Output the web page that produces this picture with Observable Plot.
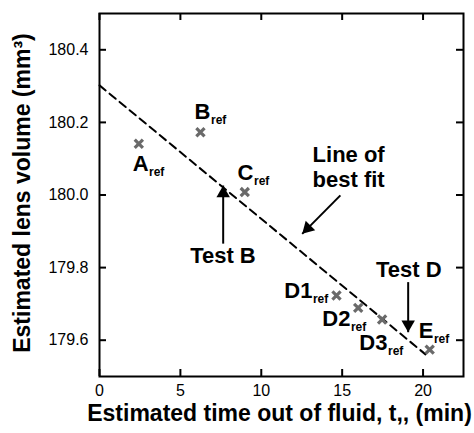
<!DOCTYPE html>
<html><head><meta charset="utf-8">
<script src="https://cdn.jsdelivr.net/npm/d3@7"></script>
<script src="https://cdn.jsdelivr.net/npm/@observablehq/plot@0.6"></script>
<style>body{margin:0;background:#fff}</style>
</head><body><div id="chart"></div>
<script>
const pointLabels = ["A", "B", "C", "D1", "D2", "D3", "E"];
const pointTime = [2.43, 6.24, 8.98, 14.65, 15.99, 17.47, 20.41];
const pointVolume = [180.141, 180.173, 180.008, 179.723, 179.689, 179.657, 179.574];
const labelTime = [3.03, 6.86, 9.52, 13.16, 15.51, 17.80, 20.64];
const labelVolume = [180.067, 180.208, 180.040, 179.715, 179.640, 179.572, 179.607];
const fitTime = [0, 20.15];
const fitVolume = [180.302, 179.561];
const xTicks = [0, 5, 10, 15, 20];
const yTicks = [179.6, 179.8, 180.0, 180.2, 180.4];
const xDomain = [0, 22.5];
const yDomain = [179.5, 180.5];
const noteText = ["Test B", "Test D", "Line of", "best fit"];
const noteTime = [7.63, 19.12, 15.40, 15.40];
const noteVolume = [179.814, 179.773, 180.090, 180.021];
const noteAnchor = ["middle", "middle", "start", "start"];
const arrowTailTime = [7.645, 19.08, 14.89];
const arrowTailVolume = [179.866, 179.760, 179.999];
const arrowTipTime = [7.645, 19.08, 12.53];
const arrowTipVolume = [180.026, 179.622, 179.893];
const xTitle = "Estimated time out of fluid, t,, (min)";
const yTitle = "Estimated lens volume (mm³)";

const headRotate = [0, 180, 225];
const headShift = [[0, 7.8], [0, -7.8], [5.5, -5.5]];

const W = 474, H = 433, mL = 99, mR = 11, mT = 13, mB = 57;
const frameW = W - mL - mR, frameH = H - mT - mB, tick = 7;
// tick length converted to data units of each scale
const tx = tick * (xDomain[1] - xDomain[0]) / frameW;
const ty = tick * (yDomain[1] - yDomain[0]) / frameH;
const idx = pointLabels.map((d, i) => i);
const tickStyle = {stroke: "#000", strokeWidth: 2};

const chart = Plot.plot({
  width: W, height: H,
  marginLeft: mL, marginRight: mR, marginTop: mT, marginBottom: mB,
  style: {fontFamily: "'Liberation Sans', Arial, sans-serif", background: "#fff", color: "#000", overflow: "visible"},
  x: {domain: xDomain},
  y: {domain: yDomain},
  marks: [
    Plot.axisX({ticks: xTicks, tickSize: 0, tickPadding: 8, fontSize: 16, label: null}),
    Plot.axisY({ticks: yTicks, tickSize: 0, tickPadding: 11, fontSize: 16, tickFormat: d3.format(".1f"), label: null}),
    Plot.ruleX(xTicks, {x: d => d, y1: () => yDomain[0], y2: () => yDomain[0] + ty, ...tickStyle}),
    Plot.ruleX(xTicks, {x: d => d, y1: () => yDomain[1], y2: () => yDomain[1] - ty, ...tickStyle}),
    Plot.ruleY(yTicks, {y: d => d, x1: () => xDomain[0], x2: () => xDomain[0] + tx, ...tickStyle}),
    Plot.ruleY(yTicks, {y: d => d, x1: () => xDomain[1], x2: () => xDomain[1] - tx, ...tickStyle}),
    Plot.frame({stroke: "#000", strokeWidth: 2}),
    Plot.line(fitTime.map((t, i) => i), {x: i => fitTime[i], y: i => fitVolume[i], stroke: "#000", strokeWidth: 2, strokeDasharray: "8,5"}),
    Plot.dot(idx, {x: i => pointTime[i], y: i => pointVolume[i], symbol: "times", r: 3.8, stroke: "#6a6a6a", strokeWidth: 3.2}),
    Plot.text(idx, {x: i => labelTime[i], y: i => labelVolume[i], text: i => pointLabels[i], textAnchor: "end", lineAnchor: "bottom", fontSize: 22, fontWeight: "bold", fill: "#000"}),
    Plot.text(idx, {x: i => labelTime[i], y: i => labelVolume[i], text: () => "ref", textAnchor: "start", lineAnchor: "bottom", dy: 5, dx: 0.5, fontSize: 12, fontWeight: "bold", fill: "#000"}),
    Plot.text(noteText.map((d, i) => i), {x: i => noteTime[i], y: i => noteVolume[i], text: i => noteText[i], textAnchor: i => noteAnchor[i], lineAnchor: "bottom", fontSize: 22, fontWeight: "bold", fill: "#000"}),
    Plot.link(arrowTipTime.map((d, i) => i), {x1: i => arrowTailTime[i], y1: i => arrowTailVolume[i], x2: i => arrowTipTime[i], y2: i => arrowTipVolume[i], stroke: "#000", strokeWidth: 2}),
    ...arrowTipTime.map((d, k) => Plot.dot([k], {x: i => arrowTipTime[i], y: i => arrowTipVolume[i], symbol: "triangle", r: 5, fill: "#000", stroke: "none", rotate: headRotate[k], dx: headShift[k][0], dy: headShift[k][1]})),
    Plot.text([xTitle], {x: () => (xDomain[0] + xDomain[1]) / 2, y: () => yDomain[0], text: d => d, dy: 44, dx: -2, textAnchor: "middle", lineAnchor: "bottom", fontSize: 23, fontWeight: "bold", fill: "#000"}),
    Plot.text([yTitle], {x: () => xDomain[0], y: () => (yDomain[0] + yDomain[1]) / 2, text: d => d, rotate: -90, dx: -70, dy: -2, textAnchor: "middle", lineAnchor: "bottom", fontSize: 23, fontWeight: "bold", fill: "#000"})
  ]
});
document.getElementById("chart").appendChild(chart);
</script>
</body></html>
